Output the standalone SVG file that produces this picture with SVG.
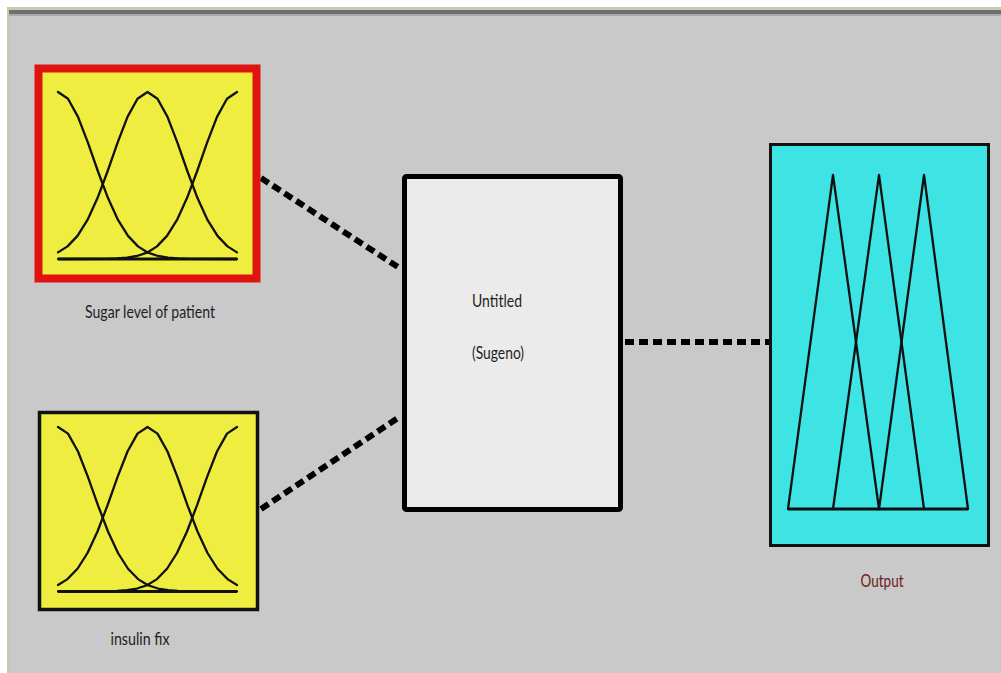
<svg xmlns="http://www.w3.org/2000/svg" xmlns:xlink="http://www.w3.org/1999/xlink" width="1001" height="673" viewBox="0 0 1001 673">
  <style>
    .mf { fill: none; stroke: #111; stroke-width: 2.3; stroke-linejoin: round; stroke-linecap: round; }
    .base { fill: none; stroke: #111; stroke-width: 3.2; }
    .label { font-family: Lato, "Liberation Sans", sans-serif; font-size: 17px; fill: #1e1e1e; }
    .link { fill: none; stroke: #000; stroke-width: 6; stroke-dasharray: 9 5; }
  </style>
  <defs>
    <!-- three gaussian membership functions over one input range -->
    <g id="gauss3">
      <polyline class="mf" points="0,0 10,6.7 20,24.9 30,50.9 40,79.5 50,106.1 60,127.9 70,143.9 80,154.4 90,160.7 100,164 110,165.7 120,166.5 130,166.8 179,167"/>
      <polyline class="mf" points="0,160.4 9.5,154.4 19.5,143.9 29.5,127.9 39.5,106.1 49.5,79.5 59.5,50.9 69.5,24.9 79.5,6.7 89.5,0 99.5,6.7 109.5,24.9 119.5,50.9 129.5,79.5 139.5,106.1 149.5,127.9 159.5,143.9 169.5,154.4 179,160.4"/>
      <polyline class="mf" points="179,0 169,6.7 159,24.9 149,50.9 139,79.5 129,106.1 119,127.9 109,143.9 99,154.4 89,160.7 79,164 69,165.7 59,166.5 49,166.8 0,167"/>
      <line class="base" x1="0" y1="167" x2="179" y2="167"/>
    </g>
  </defs>

  <!-- window frame -->
  <rect x="0" y="0" width="1001" height="673" fill="#ffffff"/>
  <rect x="7" y="7" width="994" height="666" fill="#cfc6a4"/>
  <rect x="9" y="9" width="992" height="664" fill="#c9c9c9"/>
  <rect x="9" y="10" width="992" height="4" fill="#6f6f6f"/>
  <rect x="9" y="14" width="992" height="2" fill="#a9a9a9"/>

  <!-- connectors -->
  <g id="connectors">
    <line class="link" x1="261" y1="178" x2="401" y2="269"/>
    <line class="link" x1="261" y1="509" x2="401" y2="416"/>
    <line class="link" x1="625" y1="342" x2="769" y2="342" stroke-width="7" stroke-dasharray="12 4"/>
  </g>

  <!-- input 1 -->
  <g id="input-sugar">
    <rect x="38.5" y="68.5" width="218" height="210" fill="#efee40" stroke="#e0130f" stroke-width="8"/>
    <use xlink:href="#gauss3" href="#gauss3" transform="translate(58,92)"/>
    <text class="label" x="150" y="318" text-anchor="middle" textLength="130" lengthAdjust="spacingAndGlyphs">Sugar level of patient</text>
  </g>

  <!-- input 2 -->
  <g id="input-insulin">
    <rect x="39.5" y="412.5" width="218" height="197" fill="#efee40" stroke="#111" stroke-width="3.5"/>
    <use xlink:href="#gauss3" href="#gauss3" transform="translate(58,427) scale(1,0.985)"/>
    <text class="label" x="140" y="645" text-anchor="middle" textLength="59" lengthAdjust="spacingAndGlyphs">insulin fix</text>
  </g>

  <!-- rule system -->
  <g id="system">
    <rect x="404.5" y="176.5" width="216" height="333" fill="#ebebeb" stroke="#000" stroke-width="5" rx="2"/>
    <text class="label" x="472" y="307" textLength="50" lengthAdjust="spacingAndGlyphs">Untitled</text>
    <text class="label" x="472" y="359" textLength="52" lengthAdjust="spacingAndGlyphs">(Sugeno)</text>
  </g>

  <!-- output -->
  <g id="output">
    <rect x="770.5" y="144.5" width="218" height="401" fill="#3ee3e3" stroke="#111" stroke-width="3"/>
    <polyline class="mf" points="788,509 833,175 879,509"/>
    <polyline class="mf" points="833,509 879,175 924,509"/>
    <polyline class="mf" points="879,509 924,175 968,509"/>
    <line class="base" x1="788" y1="509" x2="968" y2="509"/>
    <text class="label" x="882" y="587" text-anchor="middle" style="fill:#6e1a1a" textLength="43" lengthAdjust="spacingAndGlyphs">Output</text>
  </g>
</svg>
